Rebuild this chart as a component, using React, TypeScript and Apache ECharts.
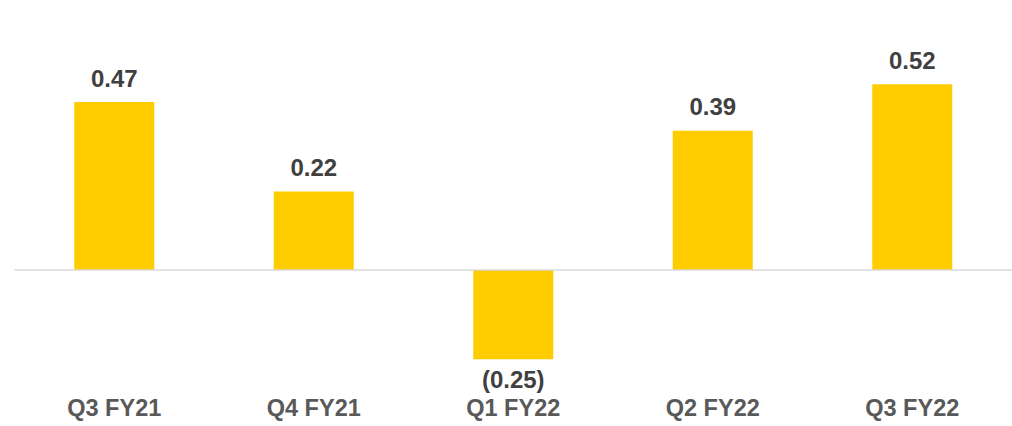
import React, { useEffect, useRef } from "react";
import * as echarts from "echarts";

const categories = ["Q3 FY21", "Q4 FY21", "Q1 FY22", "Q2 FY22", "Q3 FY22"];
const values = [0.47, 0.22, -0.25, 0.39, 0.52];

const fmt = (v: number) => (v < 0 ? `(${Math.abs(v).toFixed(2)})` : v.toFixed(2));

export default function App() {
  const ref = useRef<HTMLDivElement>(null);
  useEffect(() => {
    if (!ref.current) return;
    const chart = echarts.init(ref.current, null, { renderer: "svg" });
    chart.setOption({
      animation: false,
      grid: { left: 14.5, width: 1000, top: 55.6, bottom: 30.9 },
      xAxis: {
        type: "category",
        data: categories,
        axisLine: { show: false, onZero: false },
        axisTick: { show: false },
        axisLabel: {
          margin: 1,
          color: "#595959",
          fontSize: 23.5,
          fontWeight: "bold",
          fontFamily: "Liberation Sans, Arial, sans-serif",
        },
      },
      yAxis: {
        type: "value",
        min: -0.35,
        max: 0.6,
        show: false,
        splitLine: { show: false },
      },
      series: [
        {
          type: "bar",
          barWidth: 80,
          itemStyle: { color: "#FFCC00" },
          data: values.map((v) => ({
            value: v,
            label: {
              show: true,
              position: v < 0 ? "bottom" : "top",
              distance: v < 0 ? 8 : 12,
              formatter: () => fmt(v),
              color: "#404040",
              fontSize: 24,
              fontWeight: "bold",
              fontFamily: "Liberation Sans, Arial, sans-serif",
            },
          })),
          markLine: {
            silent: true,
            symbol: "none",
            label: { show: false },
            lineStyle: { color: "#D9D9D9", type: "solid", width: 1.5 },
            data: [{ yAxis: 0 }],
          },
        },
      ],
    });
    return () => chart.dispose();
  }, []);
  return (
    <div
      ref={ref}
      style={{ position: "absolute", left: 0, top: 0, width: 1012, height: 426, background: "#fff" }}
    />
  );
}
